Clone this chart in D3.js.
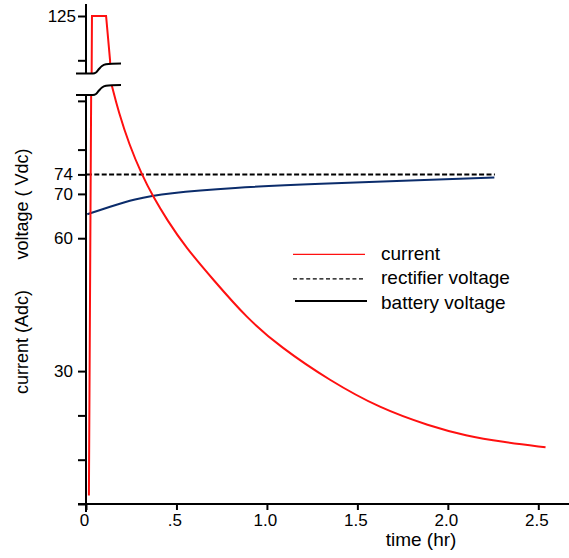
<!DOCTYPE html>
<html>
<head>
<meta charset="utf-8">
<script src="https://cdn.jsdelivr.net/npm/d3@7"></script>
<style>
  body { margin: 0; background: #fff; }
  svg text { font-family: "Liberation Sans", Arial, sans-serif; fill: #000; }
</style>
</head>
<body>
<div id="viz"></div>
<script>
// tick values + labels
var timeTicks = [0, 0.5, 1.0, 1.5, 2.0, 2.5],
    timeLabels = ['0', '.5', '1.0', '1.5', '2.0', '2.5'];
var lowTicks = [0, 10, 20, 30, 60, 70, 74.4, 80, 91],
    lowLabels = ['', '', '', '30', '60', '70', '74', '', ''];
var topTicks = [115, 125],
    topLabels = ['', '125'];

// series
var currentTime = [0.016, 0.033, 0.111, 0.133, 0.142, 0.18, 0.24, 0.308, 0.369, 0.45, 0.55, 0.704, 0.888, 1.072, 1.349, 1.625, 1.90, 2.10, 2.30, 2.54],
    currentAmps = [1.9, 125, 125, 115, 94.6, 88.5, 81, 74.4, 69.5, 64, 58, 50.6, 42, 35.5, 27.8, 21.6, 17.6, 15.4, 14.0, 12.8];
var batteryTime = [0.007, 0.133, 0.261, 0.45, 0.8, 1.3, 1.8, 2.257],
    batteryVolts = [65.4, 67.1, 68.8, 70.2, 71.4, 72.3, 73.0, 73.7];
var rectifierTime = [0.005, 2.26],
    rectifierVolts = [74.4, 74.4];

var legendNames = ['current', 'rectifier voltage', 'battery voltage'];

var width = 569, height = 558;

var x = d3.scaleLinear().domain([0, 2.5]).range([86, 538.3]);
var yLow = d3.scaleLinear().domain([0, 80]).range([504, 149.6]);
var yTop = d3.scaleLinear().domain([115, 125]).range([60.3, 16]);

var svg = d3.select('#viz').append('svg')
    .attr('width', width)
    .attr('height', height);

// axis break shape (lower edge of break), the upper one is the same shifted up
var breakShape = [[76, 0], [93, 0], [96, -1], [99, -4.5], [102, -7.5], [106, -9.2], [112, -9.8], [121, -10]];
var lowBreakY = 95, topBreakY = 73.5;
var lowBreak = breakShape.map(function(p) { return [p[0], p[1] + lowBreakY]; });
var topBreak = breakShape.map(function(p) { return [p[0], p[1] + topBreakY]; });

var defs = svg.append('defs');
var lowClipPts = lowBreak.concat([[width, lowBreakY - 10], [width, 520], [80, 520], [80, lowBreakY]]);
var topClipPts = [[80, 0], [width, 0], [width, topBreakY - 10]].concat(topBreak.slice().reverse()).concat([[80, topBreakY]]);
defs.append('clipPath').attr('id', 'clipLow')
  .append('path').attr('d', 'M' + lowClipPts.join('L') + 'Z');
defs.append('clipPath').attr('id', 'clipTop')
  .append('path').attr('d', 'M' + topClipPts.join('L') + 'Z');

function lineFor(yScale, curve) {
  return d3.line()
    .x(function(d) { return x(d[0]); })
    .y(function(d) { return yScale(d[1]); })
    .curve(curve);
}

var currentData = d3.zip(currentTime, currentAmps),
    batteryData = d3.zip(batteryTime, batteryVolts),
    rectifierData = d3.zip(rectifierTime, rectifierVolts);
// the spike is drawn with straight pieces, the decay smooth
var spikeData = currentData.slice(0, 5),
    decayData = currentData.slice(4);

// lower panel
var lowPanel = svg.append('g').attr('clip-path', 'url(#clipLow)');
lowPanel.append('path').datum(rectifierData)
  .attr('d', lineFor(yLow, d3.curveLinear))
  .attr('fill', 'none').attr('stroke', '#000')
  .attr('stroke-width', 2).attr('stroke-dasharray', '5,2.4');
lowPanel.append('path').datum(batteryData)
  .attr('d', lineFor(yLow, d3.curveBasis))
  .attr('fill', 'none').attr('stroke', '#0b2c6b').attr('stroke-width', 2);
lowPanel.append('path').datum(spikeData)
  .attr('d', lineFor(yLow, d3.curveLinear))
  .attr('fill', 'none').attr('stroke', '#ff1010').attr('stroke-width', 2);
lowPanel.append('path').datum(decayData)
  .attr('d', lineFor(yLow, d3.curveBasis))
  .attr('fill', 'none').attr('stroke', '#ff1010').attr('stroke-width', 2);

// upper panel
var topPanel = svg.append('g').attr('clip-path', 'url(#clipTop)');
topPanel.append('path').datum(spikeData)
  .attr('d', lineFor(yTop, d3.curveLinear))
  .attr('fill', 'none').attr('stroke', '#ff1010').attr('stroke-width', 2);

// axes
var xAxis = d3.axisBottom(x)
  .tickValues(timeTicks)
  .tickFormat(function(d, i) { return timeLabels[i]; })
  .tickSize(6).tickPadding(4);

var xGuide = svg.append('g')
  .attr('transform', 'translate(0,504)')
  .call(xAxis);
xGuide.select('.domain').remove();
xGuide.selectAll('text').attr('dx', -2);

var yLowAxis = d3.axisLeft(yLow)
  .tickValues(lowTicks)
  .tickFormat(function(d, i) { return lowLabels[i]; })
  .tickSize(8).tickPadding(5);
var yLowGuide = svg.append('g').attr('transform', 'translate(86,0)').call(yLowAxis);
yLowGuide.select('.domain').remove();

var yTopAxis = d3.axisLeft(yTop)
  .tickValues(topTicks)
  .tickFormat(function(d, i) { return topLabels[i]; })
  .tickSize(8).tickPadding(2);
var yTopGuide = svg.append('g').attr('transform', 'translate(86,0)').call(yTopAxis);
yTopGuide.select('.domain').remove();

svg.selectAll('.tick line').attr('stroke', '#000').attr('stroke-width', 2);
svg.selectAll('.tick text')
  .attr('font-size', 17)
  .attr('font-family', '"Liberation Sans", Arial, sans-serif');

// axis lines
svg.append('line').attr('x1', 78).attr('x2', width).attr('y1', 504).attr('y2', 504)
  .attr('stroke', '#000').attr('stroke-width', 2);
svg.append('line').attr('x1', 86).attr('x2', 86).attr('y1', lowBreakY).attr('y2', 512)
  .attr('stroke', '#000').attr('stroke-width', 2);
svg.append('line').attr('x1', 86).attr('x2', 86).attr('y1', 4).attr('y2', topBreakY)
  .attr('stroke', '#000').attr('stroke-width', 2);

var breakLine = d3.line().curve(d3.curveMonotoneX);
[lowBreak, topBreak].forEach(function(pts) {
  svg.append('path').attr('d', breakLine(pts))
    .attr('fill', 'none').attr('stroke', '#000').attr('stroke-width', 2);
});

// axis titles
svg.append('text')
  .attr('x', 421).attr('y', 546)
  .attr('text-anchor', 'middle')
  .attr('font-size', 19)
  .text('time (hr)');

svg.append('text')
  .attr('transform', 'translate(28,342) rotate(-90)')
  .attr('text-anchor', 'middle')
  .attr('font-size', 18)
  .text('current (Adc)');

svg.append('text')
  .attr('transform', 'translate(28,204) rotate(-90)')
  .attr('text-anchor', 'middle')
  .attr('font-size', 18)
  .text('voltage ( Vdc)');

// legend
var legend = svg.append('g');
var rows = legend.selectAll('g').data(legendNames).enter().append('g')
  .attr('transform', function(d, i) { return 'translate(0,' + (i * 24.5) + ')'; });

rows.append('line')
  .attr('x1', function(d, i) { return i == 2 ? 295 : 293; })
  .attr('x2', function(d, i) { return i == 2 ? 367 : 365; })
  .attr('y1', function(d, i) { return i == 2 ? 252 : 254.3; })
  .attr('y2', function(d, i) { return i == 2 ? 252 : 254.3; })
  .attr('stroke', function(d, i) { return i == 0 ? '#ff1010' : '#000'; })
  .attr('stroke-width', function(d, i) { return i == 2 ? 2 : 1.2; })
  .attr('stroke-dasharray', function(d, i) { return i == 1 ? '4,2.6' : null; });

rows.append('text')
  .attr('x', 381)
  .attr('y', 259.5)
  .attr('font-size', 19)
  .text(function(d) { return d; });
</script>
</body>
</html>
